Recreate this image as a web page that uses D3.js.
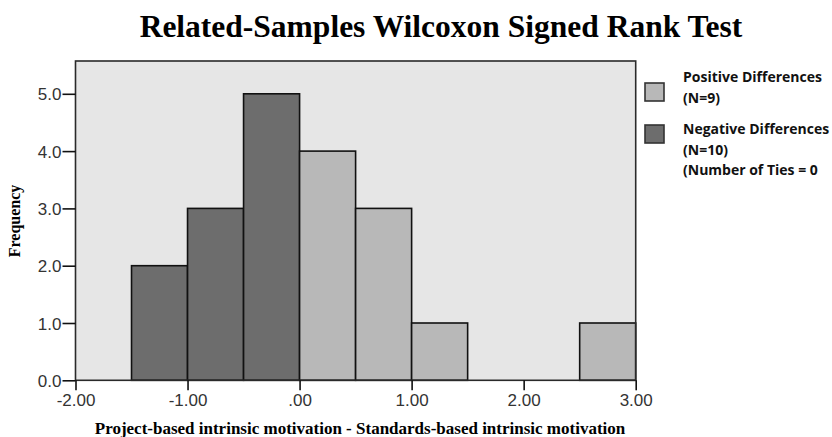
<!DOCTYPE html>
<html>
<head>
<meta charset="utf-8">
<script src="https://cdn.jsdelivr.net/npm/d3@7"></script>
<style>
  body { margin: 0; background: #fff; }
</style>
</head>
<body>
<svg id="chart" width="832" height="437"></svg>
<script>
// histogram bins (width 0.5) of the paired differences
const binStarts = [-1.5, -1.0, -0.5, 0.0, 0.5, 1.0, 1.5, 2.0, 2.5]
const binCounts = [2, 3, 5, 4, 3, 1, 0, 0, 1]
const xTicks = [-2, -1, 0, 1, 2, 3]
const xTickLabels = ['-2.00', '-1.00', '.00', '1.00', '2.00', '3.00']
const yTicks = [0, 1, 2, 3, 4, 5]
const yTickLabels = ['0.0', '1.0', '2.0', '3.0', '4.0', '5.0']
const legendItems = [
  { key: 'pos', lines: ['Positive Differences', '(N=9)'] },
  { key: 'neg', lines: ['Negative Differences', '(N=10)', '(Number of Ties = 0'] }
]

const binWidth = 0.5
const plot = { left: 75.5, right: 635.7, top: 61, bottom: 380.3 }
const fill = { pos: '#b8b8b8', neg: '#6d6d6d' }

const svg = d3.select('#chart')

const x = d3.scaleLinear().domain([-2, 3]).range([plot.left, plot.right])
const y = d3.scaleLinear().domain([0, 5]).range([plot.bottom, 93.8])

// background
svg.append('rect')
  .attr('x', plot.left)
  .attr('y', plot.top)
  .attr('width', plot.right - plot.left)
  .attr('height', plot.bottom - plot.top)
  .attr('fill', '#e6e6e6')

// bars
const bins = binStarts.map((s, i) => ({ start: s, count: binCounts[i] }))
svg.append('g')
  .selectAll('rect')
  .data(bins.filter(d => d.count > 0))
  .enter()
  .append('rect')
  .attr('x', d => x(d.start))
  .attr('y', d => y(d.count))
  .attr('width', d => x(d.start + binWidth) - x(d.start))
  .attr('height', d => y(0) - y(d.count))
  .attr('fill', d => d.start < 0 ? fill.neg : fill.pos)
  .attr('stroke', '#111')
  .attr('stroke-width', 1.6)

// frame
svg.append('rect')
  .attr('x', plot.left)
  .attr('y', plot.top)
  .attr('width', plot.right - plot.left)
  .attr('height', plot.bottom - plot.top)
  .attr('fill', 'none')
  .attr('stroke', '#2a2a2a')
  .attr('stroke-width', 1.6)

// axes
const xAxis = svg.append('g')
  .attr('transform', `translate(0,${plot.bottom})`)
  .call(d3.axisBottom(x).tickValues(xTicks).tickSize(10).tickPadding(4)
    .tickFormat((d, i) => xTickLabels[i]))
const yAxis = svg.append('g')
  .attr('transform', `translate(${plot.left},0)`)
  .call(d3.axisLeft(y).tickValues(yTicks).tickSize(13).tickPadding(1)
    .tickFormat((d, i) => yTickLabels[i]))

;[xAxis, yAxis].forEach(ax => {
  ax.select('.domain').remove()
  ax.selectAll('.tick line').attr('stroke', '#111').attr('stroke-width', 1.6)
  ax.selectAll('.tick text')
    .attr('fill', '#333')
    .style('font-family', 'Liberation Sans, Arial, sans-serif')
    .style('font-size', '17px')
})
yAxis.selectAll('.tick text').attr('dy', '0.36em')

// title and axis labels
svg.append('text')
  .attr('x', 441)
  .attr('y', 37)
  .attr('text-anchor', 'middle')
  .style('font-family', 'Liberation Serif, Times New Roman, serif')
  .style('font-weight', 'bold')
  .style('font-size', '31.5px')
  .text('Related-Samples Wilcoxon Signed Rank Test')

svg.append('text')
  .attr('x', 360)
  .attr('y', 434)
  .attr('text-anchor', 'middle')
  .style('font-family', 'Liberation Serif, Times New Roman, serif')
  .style('font-weight', 'bold')
  .style('font-size', '17px')
  .text('Project-based intrinsic motivation - Standards-based intrinsic motivation')

svg.append('text')
  .attr('transform', 'translate(20,221) rotate(-90)')
  .attr('text-anchor', 'middle')
  .style('font-family', 'Liberation Serif, Times New Roman, serif')
  .style('font-weight', 'bold')
  .style('font-size', '16px')
  .text('Frequency')

// legend
const swatchTop = [83, 125]
const textBase = [82, 134]
const legend = svg.append('g')
legendItems.forEach((item, i) => {
  legend.append('rect')
    .attr('x', 645)
    .attr('y', swatchTop[i])
    .attr('width', 19)
    .attr('height', 18)
    .attr('fill', fill[item.key])
    .attr('stroke', '#333')
    .attr('stroke-width', 1.6)
  legend.append('text')
    .style('font-family', 'Open Sans, Liberation Sans, sans-serif')
    .style('font-weight', 'bold')
    .style('font-size', '14px')
    .attr('fill', '#111')
    .selectAll('tspan')
    .data(item.lines)
    .enter()
    .append('tspan')
    .attr('x', 683)
    .attr('y', (d, j) => textBase[i] + j * 20.5)
    .text(d => d)
})
</script>
</body>
</html>
